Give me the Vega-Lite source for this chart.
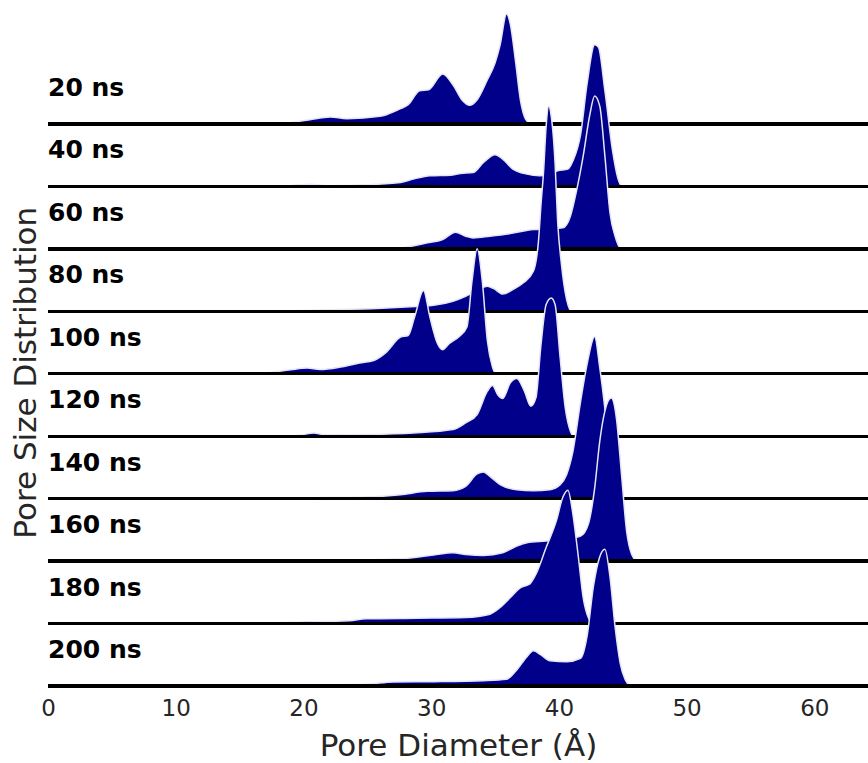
{
  "$schema": "https://vega.github.io/schema/vega-lite/v6.json",
  "padding": {"top": 10, "left": 10, "right": 0, "bottom": 0},
  "bounds": "flush",
  "config": {
    "view": {"stroke": null},
    "font": "DejaVu Sans",
    "axis": {"labelFont": "DejaVu Sans", "titleFont": "DejaVu Sans"}
  },
  "data": {
    "values": [
      {"t": "20 ns", "x": 18.2, "h": 0}, {"t": "20 ns", "x": 19.7, "h": 2.7}, {"t": "20 ns", "x": 20.5, "h": 4.3}, {"t": "20 ns", "x": 22.1, "h": 7}, {"t": "20 ns", "x": 23.4, "h": 5.3}, {"t": "20 ns", "x": 26.0, "h": 7.7}, {"t": "20 ns", "x": 26.5, "h": 9.3}, {"t": "20 ns", "x": 27.6, "h": 15.3}, {"t": "20 ns", "x": 28.2, "h": 19.3}, {"t": "20 ns", "x": 29.1, "h": 33.3}, {"t": "20 ns", "x": 29.8, "h": 34.3}, {"t": "20 ns", "x": 30.9, "h": 50}, {"t": "20 ns", "x": 31.7, "h": 39.3}, {"t": "20 ns", "x": 32.5, "h": 22.7}, {"t": "20 ns", "x": 33.0, "h": 18.7}, {"t": "20 ns", "x": 33.6, "h": 24.3}, {"t": "20 ns", "x": 34.4, "h": 44.3}, {"t": "20 ns", "x": 35.0, "h": 61}, {"t": "20 ns", "x": 35.4, "h": 79.3}, {"t": "20 ns", "x": 35.9, "h": 110}, {"t": "20 ns", "x": 36.2, "h": 99.7}, {"t": "20 ns", "x": 36.6, "h": 63}, {"t": "20 ns", "x": 37.0, "h": 23}, {"t": "20 ns", "x": 37.4, "h": 4.7}, {"t": "20 ns", "x": 37.8, "h": 0},

      {"t": "40 ns", "x": 18.5, "h": 0}, {"t": "40 ns", "x": 19.7, "h": 1.7}, {"t": "40 ns", "x": 20.6, "h": 2.3}, {"t": "40 ns", "x": 21.8, "h": 0.7}, {"t": "40 ns", "x": 24.9, "h": 1.7}, {"t": "40 ns", "x": 27.6, "h": 4}, {"t": "40 ns", "x": 28.6, "h": 7.3}, {"t": "40 ns", "x": 29.9, "h": 10.7}, {"t": "40 ns", "x": 31.5, "h": 11.3}, {"t": "40 ns", "x": 32.3, "h": 13}, {"t": "40 ns", "x": 33.3, "h": 14}, {"t": "40 ns", "x": 34.1, "h": 24}, {"t": "40 ns", "x": 35.0, "h": 31.7}, {"t": "40 ns", "x": 35.6, "h": 27.3}, {"t": "40 ns", "x": 36.4, "h": 17.3}, {"t": "40 ns", "x": 37.5, "h": 12.3}, {"t": "40 ns", "x": 38.5, "h": 10.7}, {"t": "40 ns", "x": 39.3, "h": 12}, {"t": "40 ns", "x": 39.9, "h": 15.7}, {"t": "40 ns", "x": 40.7, "h": 17.3}, {"t": "40 ns", "x": 41.1, "h": 25.7}, {"t": "40 ns", "x": 41.7, "h": 52}, {"t": "40 ns", "x": 42.2, "h": 102}, {"t": "40 ns", "x": 42.8, "h": 141.7}, {"t": "40 ns", "x": 43.1, "h": 139}, {"t": "40 ns", "x": 43.6, "h": 95.7}, {"t": "40 ns", "x": 44.2, "h": 35.7}, {"t": "40 ns", "x": 44.6, "h": 9}, {"t": "40 ns", "x": 44.9, "h": 0.7}, {"t": "40 ns", "x": 45.2, "h": 0},

      {"t": "60 ns", "x": 24.0, "h": 0}, {"t": "60 ns", "x": 27.6, "h": 1}, {"t": "60 ns", "x": 29.7, "h": 6}, {"t": "60 ns", "x": 30.9, "h": 9.3}, {"t": "60 ns", "x": 31.9, "h": 16.7}, {"t": "60 ns", "x": 32.7, "h": 12.7}, {"t": "60 ns", "x": 33.3, "h": 11}, {"t": "60 ns", "x": 34.6, "h": 12.7}, {"t": "60 ns", "x": 36.2, "h": 15.3}, {"t": "60 ns", "x": 38.0, "h": 19.3}, {"t": "60 ns", "x": 39.2, "h": 20}, {"t": "60 ns", "x": 40.3, "h": 21}, {"t": "60 ns", "x": 40.9, "h": 32.7}, {"t": "60 ns", "x": 41.4, "h": 59.3}, {"t": "60 ns", "x": 41.9, "h": 92.7}, {"t": "60 ns", "x": 42.4, "h": 132.7}, {"t": "60 ns", "x": 42.8, "h": 153}, {"t": "60 ns", "x": 43.2, "h": 142.7}, {"t": "60 ns", "x": 43.6, "h": 93}, {"t": "60 ns", "x": 44.0, "h": 36}, {"t": "60 ns", "x": 44.4, "h": 12.7}, {"t": "60 ns", "x": 44.8, "h": 1}, {"t": "60 ns", "x": 45.0, "h": 0},

      {"t": "80 ns", "x": 18.0, "h": 0}, {"t": "80 ns", "x": 19.7, "h": 0.7}, {"t": "80 ns", "x": 26.5, "h": 3.3}, {"t": "80 ns", "x": 28.9, "h": 5}, {"t": "80 ns", "x": 30.2, "h": 6}, {"t": "80 ns", "x": 31.7, "h": 10}, {"t": "80 ns", "x": 32.7, "h": 15}, {"t": "80 ns", "x": 33.5, "h": 20}, {"t": "80 ns", "x": 34.4, "h": 25}, {"t": "80 ns", "x": 34.9, "h": 22.7}, {"t": "80 ns", "x": 35.6, "h": 17.3}, {"t": "80 ns", "x": 36.4, "h": 21.7}, {"t": "80 ns", "x": 37.2, "h": 28.3}, {"t": "80 ns", "x": 38.0, "h": 40}, {"t": "80 ns", "x": 38.4, "h": 70}, {"t": "80 ns", "x": 38.6, "h": 107}, {"t": "80 ns", "x": 38.8, "h": 140}, {"t": "80 ns", "x": 39.0, "h": 185}, {"t": "80 ns", "x": 39.2, "h": 205}, {"t": "80 ns", "x": 39.4, "h": 195}, {"t": "80 ns", "x": 39.7, "h": 148}, {"t": "80 ns", "x": 39.9, "h": 90}, {"t": "80 ns", "x": 40.2, "h": 47}, {"t": "80 ns", "x": 40.6, "h": 12}, {"t": "80 ns", "x": 40.9, "h": 0},

      {"t": "100 ns", "x": 16.5, "h": 0}, {"t": "100 ns", "x": 17.1, "h": 0.7}, {"t": "100 ns", "x": 19.0, "h": 4}, {"t": "100 ns", "x": 20.3, "h": 5.7}, {"t": "100 ns", "x": 21.3, "h": 4.3}, {"t": "100 ns", "x": 22.9, "h": 6.7}, {"t": "100 ns", "x": 24.4, "h": 10.7}, {"t": "100 ns", "x": 25.5, "h": 13.3}, {"t": "100 ns", "x": 26.5, "h": 21.7}, {"t": "100 ns", "x": 27.6, "h": 36.7}, {"t": "100 ns", "x": 28.2, "h": 38.3}, {"t": "100 ns", "x": 28.7, "h": 56.7}, {"t": "100 ns", "x": 29.4, "h": 83.3}, {"t": "100 ns", "x": 29.9, "h": 56.7}, {"t": "100 ns", "x": 30.5, "h": 30}, {"t": "100 ns", "x": 30.9, "h": 24}, {"t": "100 ns", "x": 31.4, "h": 30}, {"t": "100 ns", "x": 32.2, "h": 37.3}, {"t": "100 ns", "x": 32.8, "h": 46.7}, {"t": "100 ns", "x": 33.2, "h": 93}, {"t": "100 ns", "x": 33.6, "h": 125}, {"t": "100 ns", "x": 34.0, "h": 93}, {"t": "100 ns", "x": 34.4, "h": 33}, {"t": "100 ns", "x": 34.8, "h": 6.7}, {"t": "100 ns", "x": 35.0, "h": 0},

      {"t": "120 ns", "x": 18.5, "h": 0}, {"t": "120 ns", "x": 19.7, "h": 1}, {"t": "120 ns", "x": 20.8, "h": 3.3}, {"t": "120 ns", "x": 21.8, "h": 1.3}, {"t": "120 ns", "x": 24.9, "h": 1.7}, {"t": "120 ns", "x": 28.6, "h": 3.3}, {"t": "120 ns", "x": 31.7, "h": 6.7}, {"t": "120 ns", "x": 32.7, "h": 13.3}, {"t": "120 ns", "x": 33.6, "h": 21.7}, {"t": "120 ns", "x": 34.4, "h": 45}, {"t": "120 ns", "x": 34.8, "h": 50.7}, {"t": "120 ns", "x": 35.2, "h": 41.7}, {"t": "120 ns", "x": 35.6, "h": 37.7}, {"t": "120 ns", "x": 36.2, "h": 53.3}, {"t": "120 ns", "x": 36.7, "h": 57.7}, {"t": "120 ns", "x": 37.3, "h": 45}, {"t": "120 ns", "x": 37.8, "h": 30}, {"t": "120 ns", "x": 38.2, "h": 38.3}, {"t": "120 ns", "x": 38.6, "h": 91.7}, {"t": "120 ns", "x": 39.0, "h": 131.7}, {"t": "120 ns", "x": 39.4, "h": 138.3}, {"t": "120 ns", "x": 39.7, "h": 131.7}, {"t": "120 ns", "x": 40.1, "h": 78}, {"t": "120 ns", "x": 40.5, "h": 28}, {"t": "120 ns", "x": 40.9, "h": 5}, {"t": "120 ns", "x": 41.1, "h": 0},

      {"t": "140 ns", "x": 18.5, "h": 0}, {"t": "140 ns", "x": 19.7, "h": 0.7}, {"t": "140 ns", "x": 24.9, "h": 1.7}, {"t": "140 ns", "x": 27.6, "h": 4}, {"t": "140 ns", "x": 29.7, "h": 7.3}, {"t": "140 ns", "x": 31.7, "h": 8}, {"t": "140 ns", "x": 32.7, "h": 12.3}, {"t": "140 ns", "x": 33.6, "h": 24.7}, {"t": "140 ns", "x": 34.1, "h": 26.7}, {"t": "140 ns", "x": 34.6, "h": 22.3}, {"t": "140 ns", "x": 35.4, "h": 14}, {"t": "140 ns", "x": 36.7, "h": 9}, {"t": "140 ns", "x": 38.0, "h": 8}, {"t": "140 ns", "x": 39.3, "h": 9}, {"t": "140 ns", "x": 40.1, "h": 14}, {"t": "140 ns", "x": 40.6, "h": 24}, {"t": "140 ns", "x": 41.1, "h": 47.3}, {"t": "140 ns", "x": 41.7, "h": 97.3}, {"t": "140 ns", "x": 42.2, "h": 134}, {"t": "140 ns", "x": 42.8, "h": 162}, {"t": "140 ns", "x": 43.2, "h": 130.7}, {"t": "140 ns", "x": 43.6, "h": 90}, {"t": "140 ns", "x": 44.0, "h": 40}, {"t": "140 ns", "x": 44.5, "h": 8}, {"t": "140 ns", "x": 44.9, "h": 0},

      {"t": "160 ns", "x": 20.0, "h": 0}, {"t": "160 ns", "x": 22.3, "h": 0.7}, {"t": "160 ns", "x": 27.6, "h": 2.3}, {"t": "160 ns", "x": 30.2, "h": 6}, {"t": "160 ns", "x": 31.7, "h": 8.3}, {"t": "160 ns", "x": 32.7, "h": 6.7}, {"t": "160 ns", "x": 34.1, "h": 5.7}, {"t": "160 ns", "x": 35.6, "h": 8.3}, {"t": "160 ns", "x": 36.7, "h": 15}, {"t": "160 ns", "x": 37.5, "h": 18.3}, {"t": "160 ns", "x": 39.0, "h": 20}, {"t": "160 ns", "x": 40.5, "h": 22}, {"t": "160 ns", "x": 41.7, "h": 25}, {"t": "160 ns", "x": 42.3, "h": 36.7}, {"t": "160 ns", "x": 42.8, "h": 73}, {"t": "160 ns", "x": 43.2, "h": 120}, {"t": "160 ns", "x": 43.6, "h": 150}, {"t": "160 ns", "x": 44.1, "h": 163}, {"t": "160 ns", "x": 44.5, "h": 143}, {"t": "160 ns", "x": 44.9, "h": 87}, {"t": "160 ns", "x": 45.3, "h": 30}, {"t": "160 ns", "x": 45.7, "h": 6.7}, {"t": "160 ns", "x": 46.1, "h": 0},

      {"t": "180 ns", "x": 17.0, "h": 0}, {"t": "180 ns", "x": 18.4, "h": 1}, {"t": "180 ns", "x": 23.6, "h": 2.7}, {"t": "180 ns", "x": 24.9, "h": 4.7}, {"t": "180 ns", "x": 28.9, "h": 5.3}, {"t": "180 ns", "x": 32.7, "h": 6}, {"t": "180 ns", "x": 34.6, "h": 9.3}, {"t": "180 ns", "x": 35.4, "h": 16}, {"t": "180 ns", "x": 36.2, "h": 26}, {"t": "180 ns", "x": 37.0, "h": 36}, {"t": "180 ns", "x": 37.7, "h": 39.3}, {"t": "180 ns", "x": 38.2, "h": 49.3}, {"t": "180 ns", "x": 39.0, "h": 76}, {"t": "180 ns", "x": 39.8, "h": 102.7}, {"t": "180 ns", "x": 40.3, "h": 126}, {"t": "180 ns", "x": 40.7, "h": 133.3}, {"t": "180 ns", "x": 41.1, "h": 109}, {"t": "180 ns", "x": 41.5, "h": 69}, {"t": "180 ns", "x": 41.9, "h": 26}, {"t": "180 ns", "x": 42.3, "h": 6}, {"t": "180 ns", "x": 42.6, "h": 0},

      {"t": "200 ns", "x": 17.0, "h": 0}, {"t": "200 ns", "x": 18.4, "h": 0.7}, {"t": "200 ns", "x": 24.9, "h": 1.7}, {"t": "200 ns", "x": 27.0, "h": 4}, {"t": "200 ns", "x": 30.2, "h": 4.3}, {"t": "200 ns", "x": 34.1, "h": 5.3}, {"t": "200 ns", "x": 35.9, "h": 6.7}, {"t": "200 ns", "x": 36.7, "h": 16}, {"t": "200 ns", "x": 37.5, "h": 29.3}, {"t": "200 ns", "x": 38.0, "h": 35.3}, {"t": "200 ns", "x": 38.6, "h": 31}, {"t": "200 ns", "x": 39.3, "h": 25.3}, {"t": "200 ns", "x": 40.6, "h": 24.3}, {"t": "200 ns", "x": 41.7, "h": 27.7}, {"t": "200 ns", "x": 42.2, "h": 49.3}, {"t": "200 ns", "x": 42.7, "h": 99.3}, {"t": "200 ns", "x": 43.2, "h": 129.3}, {"t": "200 ns", "x": 43.6, "h": 136.7}, {"t": "200 ns", "x": 44.0, "h": 109}, {"t": "200 ns", "x": 44.4, "h": 59}, {"t": "200 ns", "x": 44.8, "h": 22.7}, {"t": "200 ns", "x": 45.2, "h": 6}, {"t": "200 ns", "x": 45.6, "h": 0}
    ]
  },
  "facet": {
    "row": {
      "field": "t",
      "type": "nominal",
      "sort": ["20 ns", "40 ns", "60 ns", "80 ns", "100 ns", "120 ns", "140 ns", "160 ns", "180 ns", "200 ns"],
      "header": {
        "labels": false,
        "labelPadding": 0,
        "title": "Pore Size Distribution\u2800\u2800",
        "titleFont": "DejaVu Sans",
        "titleFontSize": 31,
        "titleFontWeight": "normal",
        "titleColor": "#262626",
        "titlePadding": -5
      }
    }
  },
  "spacing": 0.44,
  "spec": {
    "width": 820,
    "height": 62,
    "layer": [
      {
        "mark": {"type": "area", "interpolate": "monotone", "color": "#00008b", "stroke": "#e6e6f5", "strokeWidth": 1.5, "clip": false},
        "encoding": {
          "x": {
            "field": "x", "type": "quantitative",
            "scale": {"domain": [0, 64.2], "nice": false, "zero": false},
            "axis": {
              "values": [0, 10, 20, 30, 40, 50, 60],
              "domain": false, "ticks": false, "grid": false, "labelFlush": false,
              "labelFontSize": 23, "labelColor": "#262626", "labelPadding": 11,
              "title": "Pore Diameter (Å)", "titleFontSize": 31, "titleFontWeight": "normal", "titleColor": "#262626", "titlePadding": 11
            }
          },
          "y": {
            "field": "h", "type": "quantitative",
            "scale": {"domain": [0, 100], "range": [62, -38], "nice": false, "zero": false},
            "axis": null
          }
        }
      },
      {
        "mark": {"type": "rule", "color": "#000000", "strokeWidth": 2.5},
        "encoding": {"y": {"datum": 0}}
      },
      {
        "transform": [{"aggregate": [{"op": "count", "as": "n"}], "groupby": ["t"]}],
        "mark": {"type": "text", "align": "left", "baseline": "alphabetic", "fontSize": 25, "fontWeight": "bold", "color": "#000000", "font": "DejaVu Sans"},
        "encoding": {
          "x": {"datum": 0},
          "y": {"datum": 28},
          "text": {"field": "t", "type": "nominal"}
        }
      }
    ]
  }
}
